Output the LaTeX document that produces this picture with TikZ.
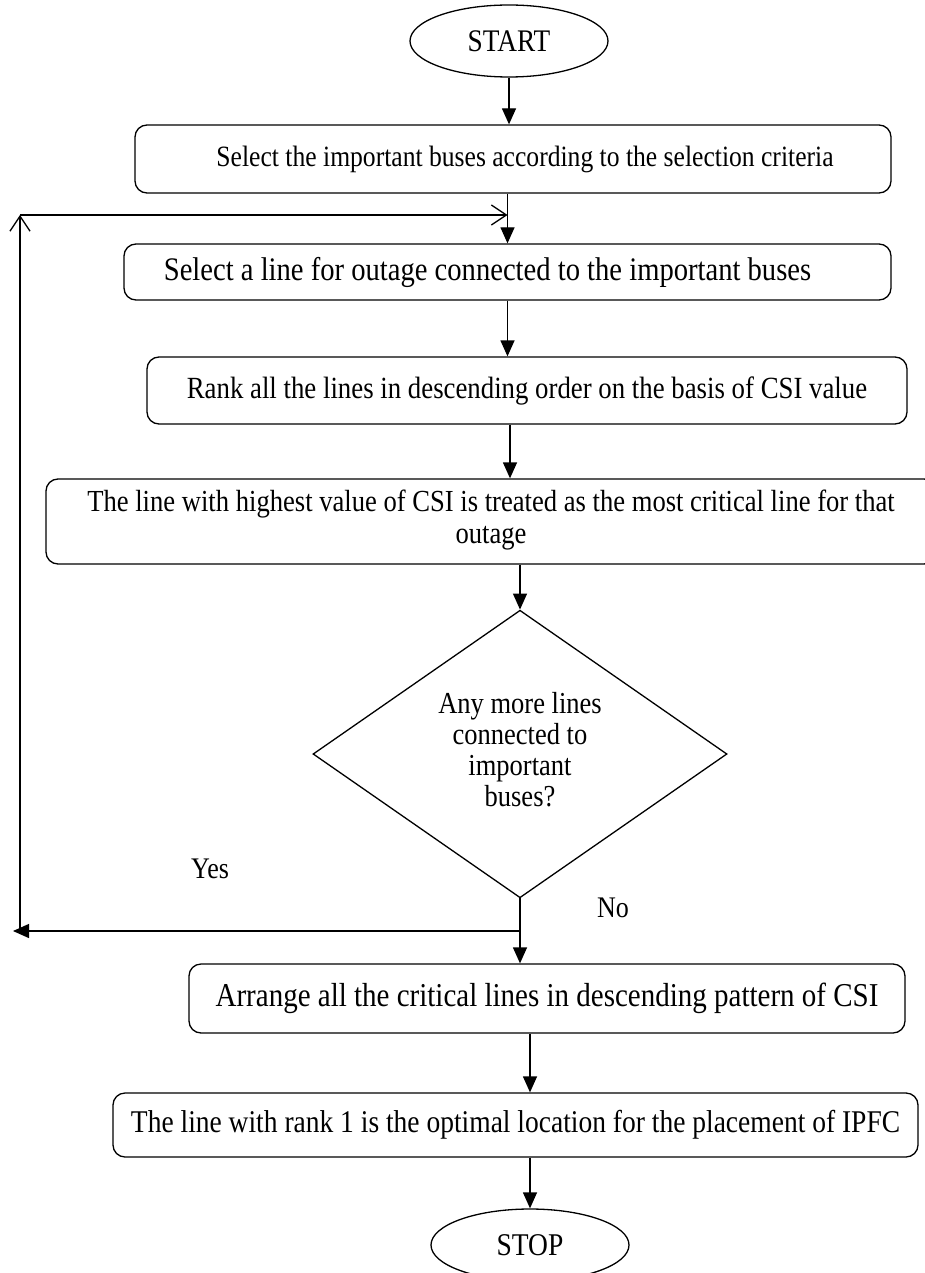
\documentclass[tikz,border=0pt]{standalone}
\usepackage{fontspec}
\setmainfont{Liberation Serif}
\usetikzlibrary{shapes.geometric,arrows.meta}
\newcommand{\tl}[1]{\scalebox{1}[1.15]{#1}}
\begin{document}
\begin{tikzpicture}[x=1pt,y=-1pt,
  every node/.style={font=\fontsize{26}{27.5}\selectfont, inner sep=0pt},
  box/.style={draw, rounded corners=12pt, line width=1.3pt, align=center},
  term/.style={draw, ellipse, line width=1.3pt, minimum width=198pt, minimum height=72pt},
  decision/.style={draw, diamond, line width=1.3pt, minimum width=414pt, minimum height=278pt, align=center},
  flow/.style={line width=1.3pt, -{Triangle[length=16pt,width=14pt]}},
  openflow/.style={line width=1.3pt, -{Straight Barb[length=15pt,width=20pt]}}]
\useasboundingbox (0,0) rectangle (925,1273);
\clip (0,0) rectangle (925,1273);

\node[term, font=\fontsize{27.3}{28}\selectfont] (st) at (509,41) {\tl{START}};
\node[box, minimum width=756pt, minimum height=68pt, font=\fontsize{25.6}{28}\selectfont] (b1) at (513,159)
  {\hspace*{24pt}\tl{Select the important buses according to the selection criteria}};
\node[box, minimum width=767pt, minimum height=56pt, font=\fontsize{28.6}{28}\selectfont] (b2) at (507.5,272)
  {\tl{Select a line for outage connected to the important buses}\hspace*{40pt}};
\node[box, minimum width=760pt, minimum height=67pt, font=\fontsize{26.8}{28}\selectfont] (b3) at (527,390.5)
  {\tl{Rank all the lines in descending order on the basis of CSI value}};
\node[box, minimum width=890pt, minimum height=85pt, font=\fontsize{26.6}{27.8}\selectfont] (b4) at (491,521.5)
  {\raisebox{-5pt}{\tl{\begin{tabular}{@{}c@{}}The line with highest value of CSI is treated as the most critical line for that\\outage\end{tabular}}}};
\node[decision, font=\fontsize{26.5}{27}\selectfont] (dec) at (520,754)
  {\raisebox{-5pt}{\tl{\begin{tabular}{@{}c@{}}Any more lines\\connected to\\important\\buses?\end{tabular}}}};
\node[box, minimum width=716pt, minimum height=69pt, font=\fontsize{29}{28}\selectfont] (b5) at (547,998.5)
  {\tl{Arrange all the critical lines in descending pattern of CSI}};
\node[box, minimum width=805pt, minimum height=64pt, font=\fontsize{27.5}{28}\selectfont] (b6) at (515.5,1125)
  {\tl{The line with rank 1 is the optimal location for the placement of IPFC}};
\node[term, font=\fontsize{27.5}{28}\selectfont] (sp) at (530,1245) {\tl{STOP}};

\node (yes) at (210,869) {\tl{Yes}};
\node (no) at (613,908) {\tl{No}};

\coordinate (axis) at (510,0);
\coordinate (ybot) at (13,931);
\coordinate (lbot) at (20,929);
\coordinate (ltop) at (20,215);

\draw[flow] (st.south) -- (st.south |- b1.north);
\draw[flow] (b2.north |- b1.south) -- (b2.north);
\draw[flow] (b2.south) -- (b2.south |- b3.north);
\draw[flow] (axis |- b3.south) -- (axis |- b4.north);
\draw[flow] (dec.north |- b4.south) -- (dec.north);
\draw[flow] (dec.south) -- (dec.south |- b5.north);
\draw[flow] (sp.north |- b5.south) -- (sp.north |- b6.north);
\draw[flow] (sp.north |- b6.south) -- (sp.north);

\draw[flow] (dec.south |- ybot) -- (ybot);
\draw[openflow] (lbot) -- (ltop);
\draw[openflow] (ltop) -- (b2.north |- ltop);
\end{tikzpicture}
\end{document}
